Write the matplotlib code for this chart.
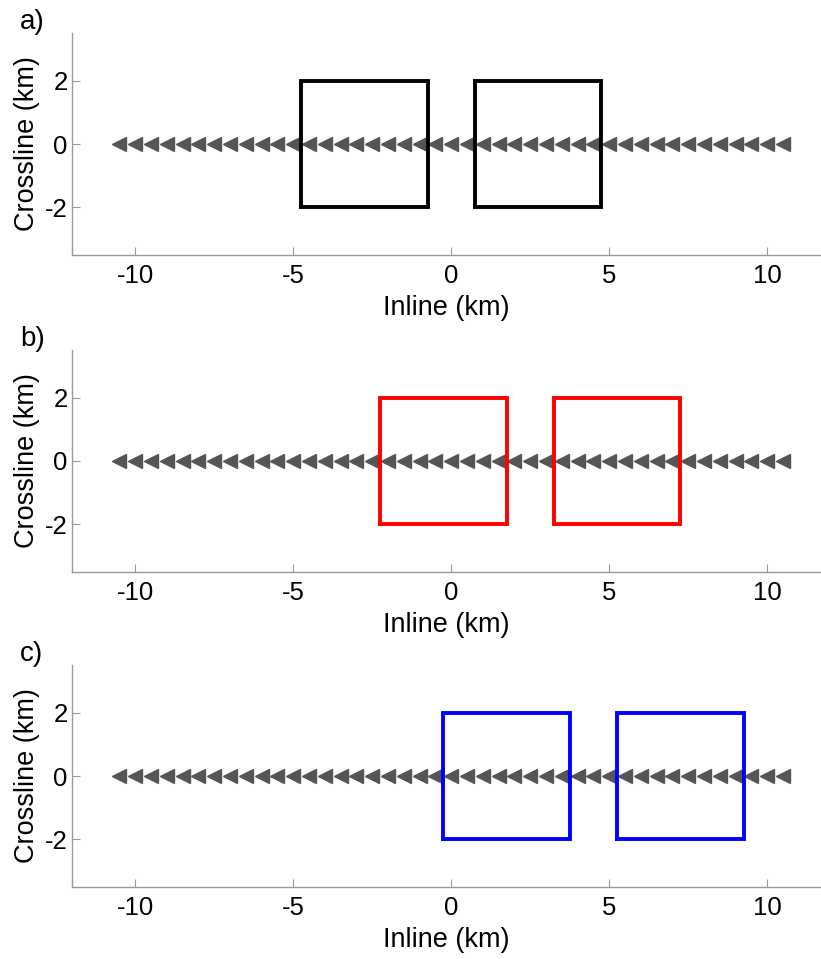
import numpy as np
import matplotlib
matplotlib.use("Agg")
import matplotlib.pyplot as plt

plt.rcParams['font.family'] = ['Liberation Sans', 'DejaVu Sans']

# Data
receiver_x = np.arange(-10.5, 10.51, 0.5)  # inline receiver positions (km)
receiver_y = np.zeros_like(receiver_x)
panel_labels = ['a)', 'b)', 'c)']
box_colors = ['#000000', '#ff0000', '#0000ff']
# each panel: two source boxes given as (x_min, x_max, y_min, y_max)
boxes = [
    [(-4.75, -0.75, -2, 2), (0.75, 4.75, -2, 2)],
    [(-2.25, 1.75, -2, 2), (3.25, 7.25, -2, 2)],
    [(-0.25, 3.75, -2, 2), (5.25, 9.25, -2, 2)],
]
xticks = [-10, -5, 0, 5, 10]
yticks = [-2, 0, 2]

W, H = 821, 959
fig = plt.figure(figsize=(W / 100, H / 100), dpi=100)

left_px, right_px = 72, 821
tops_px = [33.4, 350.4, 665.4]
height_px = 221.2
xlim = (-12, 11.7)
ylim = (-3.5, 3.5)

for i in range(3):
    ax = fig.add_axes([left_px / W, 1 - (tops_px[i] + height_px) / H,
                       (right_px - left_px) / W, height_px / H])
    ax.plot(receiver_x, receiver_y, linestyle='none', marker='<', markersize=9.6,
            color='#555555', markeredgecolor='#555555', zorder=2)
    for (x0, x1, y0, y1) in boxes[i]:
        ax.plot([x0, x1, x1, x0, x0], [y0, y0, y1, y1, y0], color=box_colors[i],
                linewidth=2.8, solid_joinstyle='miter', zorder=3)
    ax.set_xlim(*xlim)
    ax.set_ylim(*ylim)
    ax.set_xticks(xticks)
    ax.set_yticks(yticks)
    ax.set_xticklabels([str(t) for t in xticks])
    ax.set_yticklabels([str(t) for t in yticks])
    for s in ['top', 'right']:
        ax.spines[s].set_visible(False)
    for s in ['left', 'bottom']:
        ax.spines[s].set_color('#999999')
        ax.spines[s].set_linewidth(1.0)
    ax.tick_params(direction='in', length=6, width=0.8, color='#999999',
                   labelsize=18.5, labelcolor='black')
    ax.tick_params(axis='x', pad=7)
    ax.tick_params(axis='y', pad=3)
    ax.set_xlabel('Inline (km)', fontsize=19.5, labelpad=4.5)
    ax.set_ylabel('Crossline (km)', fontsize=19.5, labelpad=3.5)
    fig.text(20 / W, 1 - (tops_px[i] - 11) / H, panel_labels[i], fontsize=20,
             ha='left', va='center')

fig.savefig('out.png', dpi=100)
